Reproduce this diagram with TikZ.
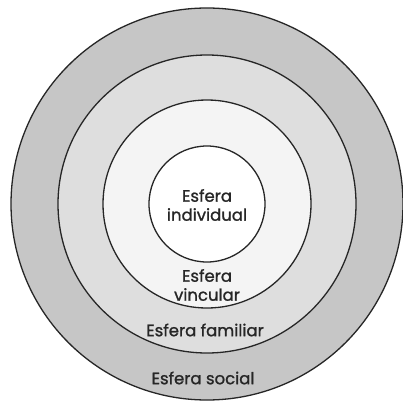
\documentclass[tikz,border=0pt]{standalone}
\usepackage{fontspec}
\setmainfont{Poppins}[FakeBold=1.2]
\definecolor{ringsocial}{HTML}{C6C6C6}
\definecolor{ringfam}{HTML}{DEDEDE}
\definecolor{ringvinc}{HTML}{F4F4F4}
\begin{document}
\begin{tikzpicture}[x=1pt,y=-1pt,
  ring/.style={draw=black!85,line width=1.3pt},
  lbl/.style={font=\fontsize{16.5}{19}\selectfont,text=black!85,align=center,inner sep=0pt}]
\useasboundingbox (0,0) rectangle (403,404);
\coordinate (c) at (207,204);
\fill[white] (0,0) rectangle (403,404);
\draw[ring,fill=ringsocial] (c) circle[radius=196];
\draw[ring,fill=ringfam] (c) circle[radius=149];
\draw[ring,fill=ringvinc] (c) circle[radius=104];
\draw[ring,fill=white] (c) circle[radius=58];
\node[lbl] (ind) at (207,205) {Esfera\\individual};
\node[lbl] (vin) at (207,285) {Esfera\\vincular};
\node[lbl] (fam) at (205,330) {Esfera familiar};
\node[lbl] (soc) at (203,378) {Esfera social};
\end{tikzpicture}
\end{document}
